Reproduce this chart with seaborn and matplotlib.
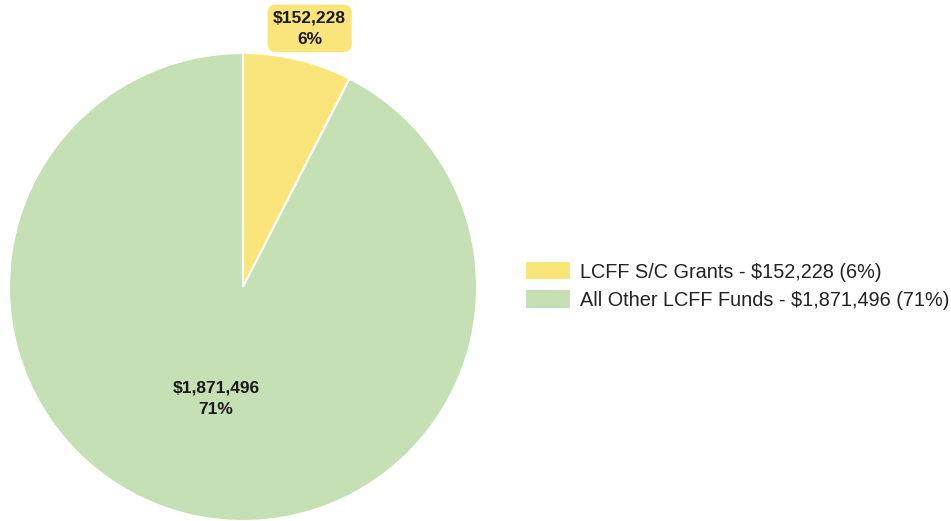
import numpy as np
import matplotlib
matplotlib.use("Agg")
import matplotlib.pyplot as plt
import seaborn as sns

# Data
categories = ["LCFF S/C Grants", "All Other LCFF Funds"]
values = [152228, 1871496]
pct_labels = ["6%", "71%"]
value_labels = ["$152,228", "$1,871,496"]
colors = ["#F9E579", "#C5E0B4"]

sns.set_style("white")
plt.rcParams['font.family'] = ['Liberation Sans', 'DejaVu Sans']

W, H = 951, 521
fig = plt.figure(figsize=(W / 100, H / 100), dpi=100)
cx, cy, R = 243, 287, 234
ax = fig.add_axes([(cx - R) / W, (H - cy - R) / H, 2 * R / W, 2 * R / H])

wedges, _ = ax.pie(values, colors=colors, startangle=90, counterclock=False,
                   radius=1, wedgeprops=dict(edgecolor="white", linewidth=1.5))
ax.set_xlim(-1, 1)
ax.set_ylim(-1, 1)
ax.set_aspect("equal")
ax.axis("off")

# Data labels
dist = [1.14, 0.49]
offsets = [(3, -0.5), (0, 0)]  # points
for i, w in enumerate(wedges):
    ang = np.deg2rad((w.theta1 + w.theta2) / 2)
    x, y = dist[i] * np.cos(ang), dist[i] * np.sin(ang)
    txt = f"{value_labels[i]}\n{pct_labels[i]}"
    kw = dict(ha="center", va="center", fontsize=12.5, fontweight="bold",
              color="#1a1a1a", linespacing=1.55, annotation_clip=False,
              xytext=offsets[i], textcoords="offset points")
    if i == 0:
        kw["bbox"] = dict(boxstyle="round,pad=0.32,rounding_size=0.5",
                          facecolor=colors[0], edgecolor="none")
    ax.annotate(txt, (x, y), **kw)

# Legend
legend_labels = [f"{c} - {v} ({p})" for c, v, p in zip(categories, value_labels, pct_labels)]
leg = fig.legend(wedges, legend_labels, loc="center left",
                 bbox_to_anchor=(510 / W, (H - 286) / H), frameon=False,
                 fontsize=14.3, handlelength=2.2, handleheight=0.95,
                 handletextpad=0.5, labelspacing=0.45, borderpad=0.3)
for t in leg.get_texts():
    t.set_color("#222222")
for h in leg.legend_handles:
    h.set_edgecolor("none")

fig.savefig("out.png", dpi=100)
